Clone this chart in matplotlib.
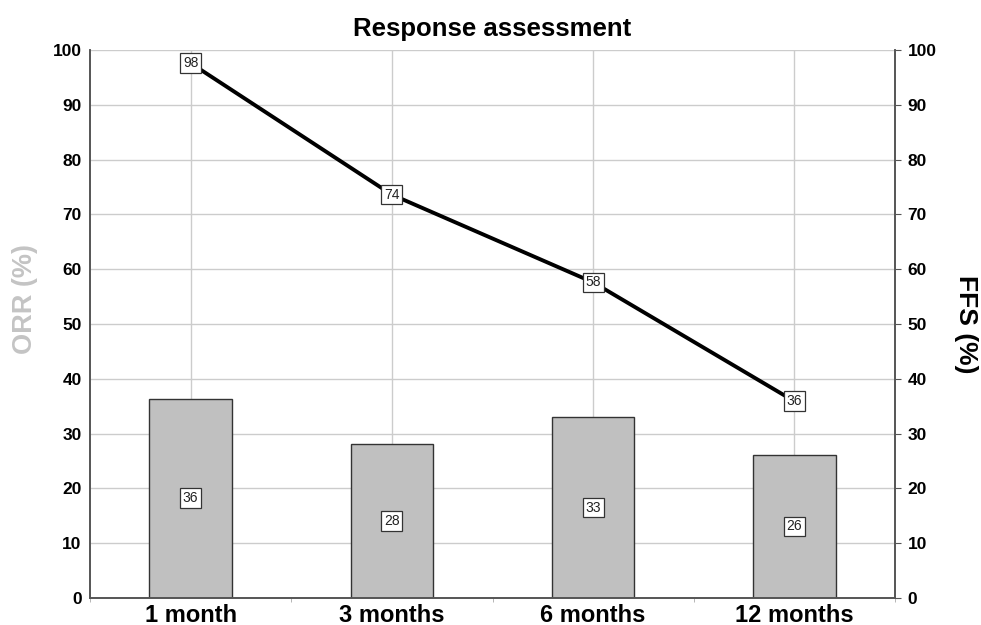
import matplotlib.pyplot as plt
import numpy as np

plt.rcParams['font.family'] = ['Liberation Sans', 'DejaVu Sans']

categories = ["1 month", "3 months", "6 months", "12 months"]
orr_values = [36.4, 28.1, 33.0, 26.1]
ffs_values = [97.6, 73.6, 57.6, 35.9]
y_ticks = list(range(0, 101, 10))

fig = plt.figure(figsize=(9.81, 6.25), dpi=100)
ax = fig.add_axes([90 / 981, 1 - 598 / 625, (895 - 90) / 981, (598 - 50) / 625])
ax2 = ax.twinx()

x = np.arange(len(categories))
ax.set_xlim(-0.5, len(categories) - 0.5)
ax.set_ylim(0, 100)
ax2.set_ylim(0, 100)

ax.set_axisbelow(True)
ax.grid(True, color="#cccccc", linewidth=1)
ax.bar(x, orr_values, width=0.41, color="#c0c0c0", edgecolor="#333333", linewidth=1, zorder=2)

box = dict(boxstyle="square,pad=0.2", facecolor="white", edgecolor="#333333", linewidth=0.9)
for xi, v in zip(x, orr_values):
    ax.text(xi, v / 2, f"{v:.0f}", ha="center", va="center", fontsize=10,
            color="#222222", bbox=box, zorder=3)

ax2.plot(x, ffs_values, color="black", linewidth=2.8, zorder=3)
for xi, v in zip(x, ffs_values):
    ax2.text(xi, v, f"{v:.0f}", ha="center", va="center", fontsize=10,
             color="#222222", bbox=box, zorder=4)

ax.set_xticks(x)
ax.set_xticklabels(categories, fontsize=17, fontweight="bold")
ax.set_xticks(np.arange(-0.5, len(categories), 1), minor=True)
ax.tick_params(axis="x", which="major", length=0, pad=4)
ax.tick_params(axis="x", which="minor", length=3, color="#aaaaaa")

ax.set_yticks(y_ticks)
ax.set_yticklabels([str(t) for t in y_ticks], fontsize=12.5, fontweight="bold")
ax.tick_params(axis="y", length=0, pad=6)
ax2.set_yticks(y_ticks)
ax2.set_yticklabels([str(t) for t in y_ticks], fontsize=12.5, fontweight="bold")
ax2.tick_params(axis="y", length=4, color="#555555", pad=5)

for a in (ax, ax2):
    a.spines["top"].set_visible(False)
    for s in ("left", "right", "bottom"):
        a.spines[s].set_color("#555555")
        a.spines[s].set_linewidth(1.2)

ax.set_ylabel("ORR (%)", fontsize=19.5, fontweight="bold", color="#c4c4c4")
ax.yaxis.set_label_coords(-0.064, 0.545)
ax2.set_ylabel("FFS (%)", fontsize=19, fontweight="bold", rotation=270, labelpad=30)
ax.set_title("Response assessment", fontsize=18.5, fontweight="bold", pad=10)

fig.savefig("out.png", dpi=100)
